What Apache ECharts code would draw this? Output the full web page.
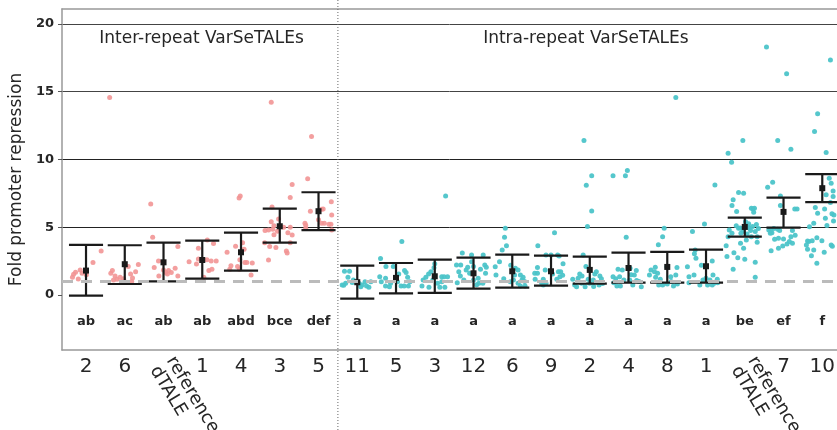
<!DOCTYPE html>
<html>
<head>
<meta charset="utf-8">
<style>
  html, body { margin: 0; padding: 0; background: #fff; }
  #chart { width: 837px; height: 430px; }
</style>
</head>
<body>
<div id="chart"></div>
<script src="https://cdn.jsdelivr.net/npm/echarts@6/dist/echarts.min.js"></script>
<script>
// categories (left block: inter-repeat, right block: intra-repeat)
const interCats = ['2', '6', 'reference\ndTALE', '1', '4', '3', '5'];
const intraCats = ['11', '5', '3', '12', '6', '9', '2', '4', '8', '1', 'reference\ndTALE', '7', '10'];

// significance letters
const interLetters = ['ab', 'ac', 'ab', 'ab', 'abd', 'bce', 'def'];
const intraLetters = ['a', 'a', 'a', 'a', 'a', 'a', 'a', 'a', 'a', 'a', 'be', 'ef', 'f'];

// mean and interval per category
const interMean = [1.8, 2.27, 2.41, 2.58, 3.15, 5.07, 6.18];
const interLow = [-0.05, 0.81, 1.01, 1.2, 1.8, 3.86, 4.78];
const interHigh = [3.7, 3.67, 3.86, 4.01, 4.6, 6.37, 7.58];
const intraMean = [0.94, 1.26, 1.38, 1.6, 1.75, 1.75, 1.85, 1.99, 2.07, 2.12, 5.02, 6.13, 7.88];
const intraLow = [-0.27, 0.12, 0.15, 0.47, 0.54, 0.69, 0.84, 0.91, 0.91, 0.91, 4.31, 4.97, 6.85];
const intraHigh = [2.16, 2.36, 2.61, 2.76, 2.98, 2.9, 2.83, 3.12, 3.18, 3.35, 5.71, 7.19, 8.91];

// individual measurements: [jitter offset, fold repression]
const interPoints = [
  [[0.39,3.25],[0.18,2.4],[-0.15,1.85],[-0.27,1.68],[-0.32,1.53],[-0.35,1.3],[-0.2,1.18],[0.01,1.5],[-0.1,1.6]],
  [[-0.39,14.57],[0.35,2.24],[0.28,1.72],[0.15,1.55],[0.2,1.25],[0.09,2.1],[-0.32,1.8],[-0.36,1.6],[-0.25,1.4],[-0.2,1.16],[-0.12,1.31],[-0.03,1.2],[-0.08,1.0],[0.18,1.0],[-0.29,1.1],[0.02,0.95]],
  [[-0.33,6.72],[-0.28,4.26],[0.37,3.57],[-0.13,2.5],[-0.24,2.03],[-0.12,1.4],[0.0,1.85],[0.06,1.65],[0.13,1.8],[0.2,1.65],[0.3,1.97],[0.37,1.4],[0.1,1.55]],
  [[0.13,4.05],[0.29,3.8],[-0.34,2.46],[-0.15,2.28],[-0.1,3.45],[-0.1,2.65],[0.12,2.6],[0.23,2.5],[0.36,2.5],[0.17,1.8],[0.25,1.9],[0.04,1.3],[-0.01,2.6]],
  [[-0.05,7.15],[-0.02,7.3],[-0.36,3.15],[-0.14,3.6],[0.04,3.86],[0.08,3.37],[-0.03,2.6],[0.1,2.4],[0.15,2.4],[0.29,2.35],[-0.26,2.15],[-0.29,1.9],[-0.09,2.1],[-0.04,1.9],[0.26,1.48]],
  [[-0.22,14.22],[0.32,8.15],[0.27,7.2],[-0.2,6.5],[-0.22,5.4],[-0.38,4.75],[-0.29,4.8],[-0.18,4.85],[-0.15,5.1],[-0.03,5.6],[0.1,5.0],[0.27,5.0],[0.21,4.6],[0.32,4.43],[-0.15,4.45],[-0.39,3.86],[-0.26,3.57],[-0.1,3.5],[0.17,3.25],[0.19,3.1],[-0.29,2.58],[0.27,3.86],[-0.06,4.7]],
  [[-0.18,11.7],[-0.28,8.58],[0.33,6.88],[0.34,5.9],[-0.21,6.17],[0.08,6.33],[0.12,6.35],[0,5.55],[0.08,5.3],[-0.35,5.3],[-0.33,5.15],[-0.33,4.9],[0.27,5.22],[0.32,5.22],[0.34,4.8],[0.15,5.3]]
];
const intraPoints = [
  [[-0.33,1.75],[-0.2,1.75],[-0.24,1.3],[-0.39,0.74],[-0.35,0.72],[-0.3,0.86],[-0.13,0.92],[0.13,0.74],[0.2,0.98],[0.24,0.66],[0.3,0.57],[0.35,0.98],[0.09,0.6],[-0.1,1.1],[0.05,0.85]],
  [[0.15,3.94],[-0.4,2.7],[-0.26,2.1],[-0.07,2.1],[0.26,1.65],[0.07,1.55],[0.3,1.3],[-0.42,1.35],[-0.38,0.98],[-0.27,0.66],[-0.17,0.6],[-0.14,0.86],[0.04,0.98],[0.13,0.66],[0.21,0.66],[0.32,0.66],[0.36,0.98],[-0.27,1.23],[0.22,1.8]],
  [[0.28,7.3],[-0.02,2.0],[-0.1,1.72],[-0.16,1.55],[-0.23,1.31],[-0.3,1.1],[-0.33,0.66],[-0.15,0.57],[0.07,0.86],[0.18,1.35],[0.24,1.35],[0.33,1.35],[0.13,0.57],[0.26,0.57],[0.18,0.98],[0.0,2.3],[-0.05,1.1]],
  [[-0.29,3.1],[-0.05,2.95],[0.25,2.95],[-0.44,2.22],[-0.33,2.22],[-0.19,1.85],[0.29,2.22],[0.33,2.05],[0.31,1.6],[-0.38,1.72],[-0.34,1.4],[-0.25,1.1],[-0.42,0.91],[0.0,1.1],[0.12,1.23],[0.14,0.86],[0.24,0.86],[-0.05,2.45],[0.0,2.1],[-0.1,1.6],[0.18,1.9],[-0.15,2.05],[0.08,0.75]],
  [[-0.18,4.93],[-0.2,4.26],[-0.15,3.64],[-0.26,3.32],[-0.33,2.46],[-0.44,2.09],[-0.42,1.48],[-0.22,1.2],[0.08,1.97],[0.15,1.85],[0.21,1.48],[0.06,1.48],[0.03,1.1],[0.15,0.86],[0.25,1.1],[0.32,1.0],[0.21,0.66],[-0.05,0.98],[0.33,0.66],[-0.04,2.2],[0.28,1.3]],
  [[0.09,4.6],[-0.34,3.64],[-0.13,2.95],[0.0,2.95],[0.17,2.95],[0.21,2.88],[0.31,2.3],[-0.35,2.02],[-0.42,1.6],[-0.35,1.6],[-0.15,1.85],[-0.41,1.16],[-0.2,1.16],[-0.13,0.86],[-0.24,0.86],[0.04,1.55],[0.19,1.72],[0.25,1.72],[0.23,1.35],[0.15,1.16],[-0.2,0.74],[0.3,1.45]],
  [[-0.15,11.4],[0.05,8.8],[-0.09,8.1],[0.05,6.2],[-0.06,5.05],[-0.17,2.95],[-0.1,2.1],[-0.26,1.55],[-0.3,1.23],[-0.44,1.16],[-0.39,0.74],[-0.34,0.61],[-0.21,0.86],[0.0,0.86],[0.13,1.55],[0.17,1.72],[0.26,1.4],[0.24,0.74],[0.09,1.1],[-0.04,1.16],[0.3,1.2],[-0.12,0.6],[0.1,0.62],[-0.2,1.4],[0.33,0.85]],
  [[-0.4,8.8],[-0.08,8.8],[-0.03,9.18],[-0.06,4.26],[-0.27,1.9],[-0.16,1.85],[0.04,1.97],[0.2,1.8],[0.15,1.48],[-0.4,1.35],[-0.23,1.35],[-0.38,0.91],[-0.3,0.66],[-0.21,0.66],[0.03,1.1],[0.11,0.74],[0.21,1.06],[0.33,0.61],[0.27,1.0],[-0.12,1.1],[-0.33,1.2],[0.07,1.5]],
  [[0.22,14.57],[-0.08,4.93],[-0.12,4.3],[-0.23,3.7],[-0.31,2.04],[-0.42,1.85],[-0.33,1.72],[-0.46,1.48],[-0.25,1.6],[-0.18,1.16],[-0.01,2.09],[0.25,2.02],[0.22,1.48],[0.09,1.35],[-0.12,0.74],[0.0,0.81],[0.16,0.66],[0.26,0.81],[-0.22,0.74],[-0.3,1.3],[0.1,1.0]],
  [[0.23,8.12],[-0.04,5.24],[-0.35,4.68],[-0.28,3.32],[-0.3,3.05],[-0.26,2.71],[-0.48,2.09],[-0.31,1.48],[-0.44,1.35],[-0.44,0.91],[-0.16,0.74],[-0.08,1.1],[0.16,2.5],[0.18,1.48],[0.0,1.23],[0.1,1.1],[0.21,0.86],[0.29,1.16],[0.16,0.74],[0.04,0.74],[-0.12,2.2],[0.3,0.9]],
  [[-0.05,11.4],[-0.43,10.46],[-0.34,9.8],[-0.16,7.56],[-0.03,7.51],[-0.3,7.02],[-0.33,6.6],[-0.21,6.15],[0.17,6.4],[0.21,6.35],[0.25,6.4],[0.23,6.1],[0.02,5.4],[-0.16,4.93],[-0.12,4.95],[-0.03,4.95],[0.08,5.0],[0.12,4.95],[0.15,4.75],[-0.33,4.56],[-0.43,4.3],[-0.1,4.56],[0.06,4.5],[0.27,4.68],[0.32,4.3],[0.17,4.3],[0.04,4.06],[0.32,3.89],[-0.11,3.82],[-0.48,3.64],[-0.03,3.45],[-0.28,3.12],[-0.46,2.83],[-0.18,2.75],[0.0,2.64],[0.27,2.41],[-0.3,1.9],[0.27,1.31],[-0.22,5.1],[-0.4,4.8],[0.3,5.2],[0.1,5.25],[-0.05,4.7],[0.2,5.05],[0.35,4.9]],
  [[-0.44,18.3],[0.08,16.32],[-0.15,11.4],[0.19,10.76],[-0.41,7.95],[-0.28,8.32],[-0.08,7.31],[-0.08,6.6],[0.29,6.35],[0.35,6.35],[0.23,4.75],[-0.38,4.8],[-0.33,4.8],[-0.25,4.9],[-0.15,4.85],[-0.1,4.75],[-0.34,4.56],[-0.23,4.11],[-0.13,4.19],[0.0,4.13],[0.19,4.3],[0.23,3.82],[0.09,3.77],[-0.02,3.62],[-0.13,3.45],[-0.32,3.27],[0.3,4.4],[0.15,3.95],[-0.3,4.6]],
  [[0.21,17.33],[-0.12,13.37],[-0.2,12.06],[0.1,10.51],[0.18,8.62],[0.23,8.25],[0.28,7.68],[0.1,7.39],[0.28,7.26],[0.21,6.82],[-0.18,6.45],[0.06,6.35],[-0.12,6.03],[0.08,5.66],[0.29,5.46],[-0.22,5.3],[-0.33,5.04],[0.12,5.12],[-0.38,3.99],[-0.35,3.95],[-0.26,4.0],[-0.14,4.23],[-0.01,4.0],[0.23,3.69],[0.26,3.6],[-0.41,3.69],[-0.38,3.37],[-0.22,3.32],[-0.28,2.9],[0.05,3.15],[-0.14,2.34],[0.25,6.0],[0.3,5.9]]
];

const yTicks = [0, 5, 10, 15, 20];
const groupTitles = ['Inter-repeat VarSeTALEs', 'Intra-repeat VarSeTALEs'];

const yMin = -4.06, yMax = 21.1;
const xMin = -0.62, xMax = 19.38;
const letterY = -2.0;
const capHalf = 0.44;
const nInter = interCats.length;
const ink = '#262626';
const font = '"DejaVu Sans", sans-serif';

const categories = interCats.concat(intraCats);
const letters = interLetters.concat(intraLetters);
const bars = interMean.map((m, i) => [i, m, interLow[i], interHigh[i]])
  .concat(intraMean.map((m, i) => [i + nInter, m, intraLow[i], intraHigh[i]]));
const pinkData = interPoints.flatMap((g, i) => g.map(p => [i + p[0], p[1]]));
const tealData = intraPoints.flatMap((g, i) => g.map(p => [i + nInter + p[0], p[1]]));

const chart = echarts.init(document.getElementById('chart'));
chart.setOption({
  animation: false,
  grid: { left: 58, right: 0, top: 9, bottom: 80 },
  xAxis: [
    { type: 'value', min: xMin, max: xMax, position: 'bottom',
      axisLine: { show: true, onZero: false, lineStyle: { color: '#999', width: 1.5 } },
      axisTick: { show: false }, axisLabel: { show: false }, splitLine: { show: false } },
    { type: 'value', min: xMin, max: xMax, position: 'top',
      axisLine: { show: true, onZero: false, lineStyle: { color: '#999', width: 1.5 } },
      axisTick: { show: false }, axisLabel: { show: false }, splitLine: { show: false } }
  ],
  yAxis: {
    type: 'value', min: yMin, max: yMax,
    name: 'Fold promoter repression', nameLocation: 'middle', nameGap: 32,
    nameTextStyle: { fontFamily: font, fontSize: 17, color: ink },
    axisLine: { show: true, onZero: false, lineStyle: { color: '#999', width: 1.5 } },
    axisTick: { show: true, length: 4, customValues: yTicks, lineStyle: { color: '#555' } },
    axisLabel: { customValues: yTicks, fontFamily: font, fontSize: 13, fontWeight: 'bold', color: ink, margin: 8 },
    splitLine: { show: true, lineStyle: { color: ['rgba(0,0,0,0)', '#222', '#222', '#444', '#444'], width: 1 } }
  },
  series: [
    {
      type: 'scatter', data: pinkData, symbolSize: 5, z: 2,
      itemStyle: { color: '#f29595', opacity: 0.9 },
      markLine: {
        silent: true, symbol: 'none', label: { show: false },
        lineStyle: { color: '#bbbbbb', width: 3, type: [11, 8] },
        data: [{ yAxis: 1 }]
      }
    },
    {
      type: 'scatter', data: tealData, symbolSize: 5, z: 2,
      itemStyle: { color: '#4cc4c9', opacity: 0.95 }
    },
    {
      type: 'custom', data: bars, z: 4,
      renderItem: (params, api) => {
        const x = api.value(0);
        const m = api.coord([x, api.value(1)]);
        const lo = api.coord([x, api.value(2)]);
        const hi = api.coord([x, api.value(3)]);
        const l = api.coord([x - capHalf, 0])[0];
        const r = api.coord([x + capHalf, 0])[0];
        const st = { stroke: '#1a1a1a', lineWidth: 2.2 };
        return { type: 'group', children: [
          { type: 'line', shape: { x1: m[0], y1: lo[1], x2: m[0], y2: hi[1] }, style: st },
          { type: 'line', shape: { x1: l, y1: lo[1], x2: r, y2: lo[1] }, style: st },
          { type: 'line', shape: { x1: l, y1: hi[1], x2: r, y2: hi[1] }, style: st },
          { type: 'rect', shape: { x: m[0] - 3, y: m[1] - 3, width: 6, height: 6 }, style: { fill: '#1a1a1a' } }
        ] };
      }
    },
    {
      // letters and category labels
      type: 'custom', data: categories.map((c, i) => [i]), z: 5, clip: false,
      renderItem: (params, api) => {
        const i = params.dataIndex;
        const x = api.value(0);
        const lp = api.coord([x, letterY]);
        const bp = api.coord([x, yMin]);
        const name = categories[i];
        const children = [
          { type: 'text', x: lp[0], y: lp[1], style: { text: letters[i], font: 'bold 13px ' + font, fill: ink, align: 'center', verticalAlign: 'middle' } }
        ];
        if (name.indexOf('\n') >= 0) {
          children.push({ type: 'text', x: bp[0] + 15, y: bp[1] + 3, rotation: -59 * Math.PI / 180,
            style: { text: name, font: '18px ' + font, fill: ink, align: 'left', verticalAlign: 'top', lineHeight: 19 } });
        } else {
          children.push({ type: 'text', x: bp[0], y: bp[1] + 17, style: { text: name, font: '20px ' + font, fill: ink, align: 'center', verticalAlign: 'middle' } });
        }
        return { type: 'group', children };
      }
    },
    {
      // block separator and block titles
      type: 'custom', data: [[6.5, 2.98, 12.9]], z: 3, clip: false,
      renderItem: (params, api) => {
        const sx = api.coord([api.value(0), 0])[0];
        const t1 = api.coord([api.value(1), 18.9]);
        const t2 = api.coord([api.value(2), 18.9]);
        return { type: 'group', children: [
          { type: 'line', shape: { x1: sx, y1: 0, x2: sx, y2: 430 }, style: { stroke: '#666', lineWidth: 1, lineDash: [1, 2] } },
          { type: 'text', x: t1[0], y: t1[1], style: { text: groupTitles[0], font: '17px ' + font, fill: ink, align: 'center', verticalAlign: 'middle' } },
          { type: 'text', x: t2[0], y: t2[1], style: { text: groupTitles[1], font: '17px ' + font, fill: ink, align: 'center', verticalAlign: 'middle' } }
        ] };
      }
    }
  ]
});
</script>
</body>
</html>
